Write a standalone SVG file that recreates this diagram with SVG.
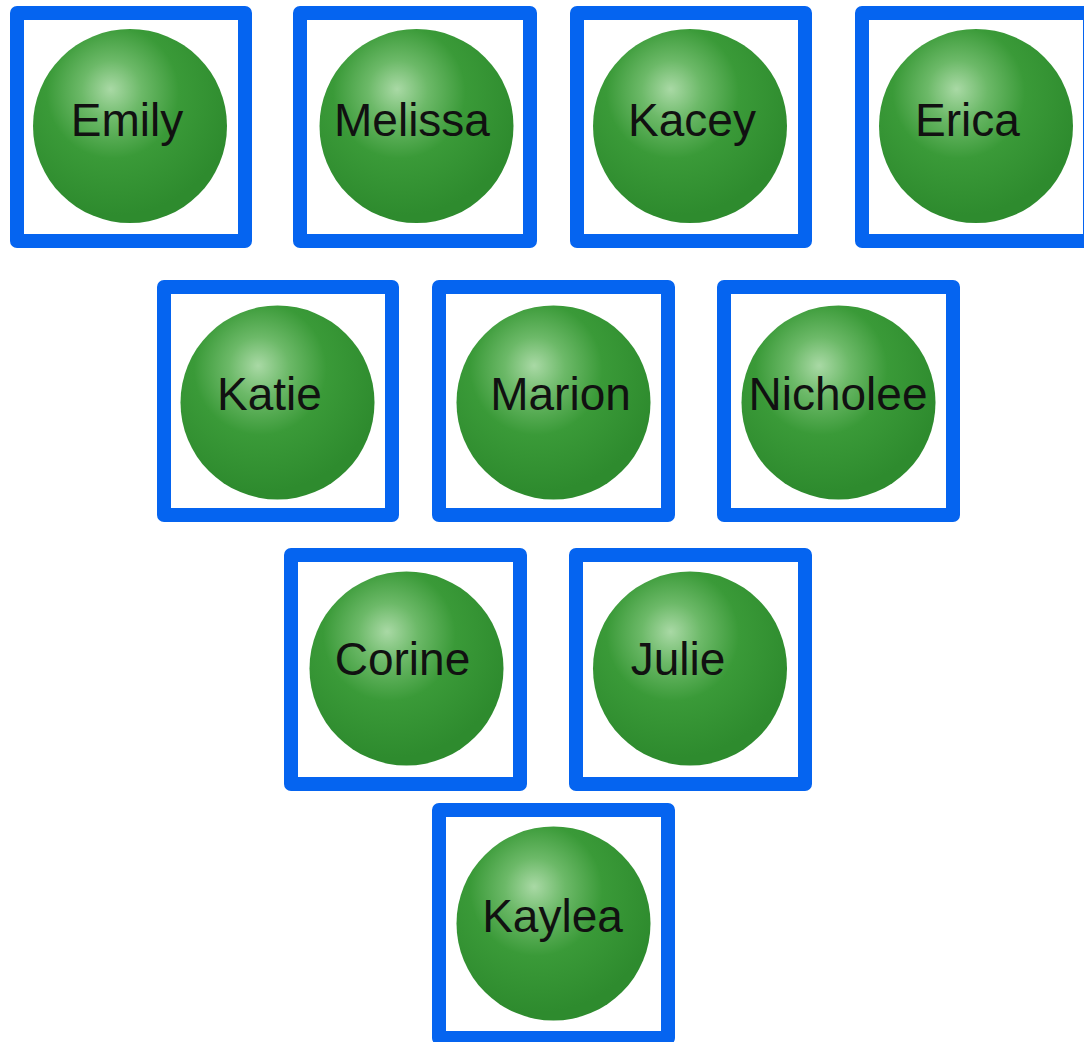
<svg xmlns="http://www.w3.org/2000/svg" width="1084" height="1042" viewBox="0 0 1084 1042">
<defs>
<radialGradient id="ball" cx="0.42" cy="0.34" r="0.62" fx="0.4" fy="0.31">
<stop offset="0" stop-color="#a9d9a5"/>
<stop offset="0.25" stop-color="#6cb968"/>
<stop offset="0.55" stop-color="#3a9a38"/>
<stop offset="1" stop-color="#2e8b2e"/>
</radialGradient>
</defs>
<style>
.box{fill:#ffffff;stroke:#0564f0;stroke-width:14;stroke-linejoin:round}
.ball{fill:url(#ball)}
.lbl{font-family:"Liberation Sans",Arial,sans-serif;font-size:46px;fill:#111111;text-anchor:middle}
</style>
<rect width="1084" height="1042" fill="#ffffff"/>
<g id="connectors"></g>
<g id="Emily"><rect class="box" x="17" y="13" width="228" height="228"/><circle class="ball" cx="130" cy="126" r="97"/><text class="lbl" x="127" y="136">Emily</text></g>
<g id="Melissa"><rect class="box" x="300" y="13" width="230" height="228"/><circle class="ball" cx="416.5" cy="126" r="97"/><text class="lbl" x="412" y="136">Melissa</text></g>
<g id="Kacey"><rect class="box" x="577" y="13" width="228" height="228"/><circle class="ball" cx="690" cy="126" r="97"/><text class="lbl" x="692" y="136">Kacey</text></g>
<g id="Erica"><rect class="box" x="862" y="13" width="228" height="228"/><circle class="ball" cx="976" cy="126" r="97"/><text class="lbl" x="967.5" y="136">Erica</text></g>
<g id="Katie"><rect class="box" x="164" y="287" width="228" height="228"/><circle class="ball" cx="277.5" cy="402.5" r="97"/><text class="lbl" x="269.5" y="410">Katie</text></g>
<g id="Marion"><rect class="box" x="439" y="287" width="229" height="228"/><circle class="ball" cx="553.5" cy="402.5" r="97"/><text class="lbl" x="560.5" y="410">Marion</text></g>
<g id="Nicholee"><rect class="box" x="724" y="287" width="229" height="228"/><circle class="ball" cx="838.5" cy="402.5" r="97"/><text class="lbl" x="838" y="410">Nicholee</text></g>
<g id="Corine"><rect class="box" x="291" y="555" width="229" height="229"/><circle class="ball" cx="406.5" cy="668.5" r="97"/><text class="lbl" x="402.5" y="675">Corine</text></g>
<g id="Julie"><rect class="box" x="576" y="555" width="229" height="229"/><circle class="ball" cx="690" cy="668.5" r="97"/><text class="lbl" x="678" y="675">Julie</text></g>
<g id="Kaylea"><rect class="box" x="439" y="810" width="229" height="228"/><circle class="ball" cx="553.5" cy="923.5" r="97"/><text class="lbl" x="552.5" y="932">Kaylea</text></g>
</svg>
